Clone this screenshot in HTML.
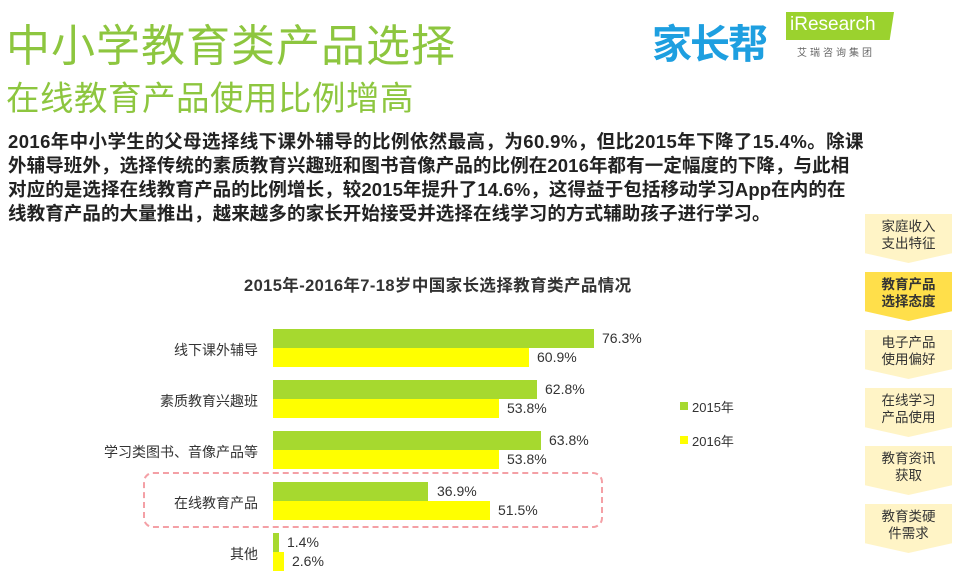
<!DOCTYPE html>
<html><head><meta charset="utf-8"><style>
body{margin:0;width:973px;height:578px;background:#fff;position:relative;overflow:hidden;font-family:"Liberation Sans","Noto Sans CJK SC",sans-serif;}
.a{position:absolute;white-space:nowrap}
.t1{left:6px;top:10px;font-size:44px;color:#8dc63f;letter-spacing:1px}
.t2{left:6px;top:71px;font-size:33.5px;color:#8dc63f;letter-spacing:0.5px}
.p{left:8px;font-size:18.5px;color:#222;font-weight:bold;letter-spacing:0.1px}
.lab{font-size:14px;color:#333;text-align:right;width:250px;left:8px}
.v{font-size:14px;color:#333}
.g{position:absolute;background:#a6d92f;height:19px;left:273px}
.y{position:absolute;background:#ffff00;height:19px;left:273px}
.box{position:absolute;left:865px;width:87px;height:49px;background:#fff4c6;clip-path:polygon(0 0,100% 0,100% 80%,50% 100%,0 80%);font-size:13.5px;color:#333;text-align:center;line-height:17px;padding-top:4px;box-sizing:border-box}
</style></head><body>
<div class="a t1">中小学教育类产品选择</div>
<div class="a t2">在线教育产品使用比例增高</div>
<div class="a" style="left:652px;top:12px;font-size:40px;font-weight:bold;color:#1e9fe0;letter-spacing:-2px">家长帮</div>
<div class="a" style="left:786px;top:12px;width:108px;height:28px;background:#9bd22e;clip-path:polygon(0 0,100% 0,96% 100%,0 100%)"></div>
<div class="a" style="left:790px;top:14px;font-size:19px;color:#fff">iResearch</div>
<div class="a" style="left:797px;top:44px;font-size:10px;color:#666;letter-spacing:3px">艾瑞咨询集团</div>
<div class="a p" style="top:128px;letter-spacing:0.4px">2016年中小学生的父母选择线下课外辅导的比例依然最高，为60.9%，但比2015年下降了15.4%。除课</div>
<div class="a p" style="top:152px">外辅导班外，选择传统的素质教育兴趣班和图书音像产品的比例在2016年都有一定幅度的下降，与此相</div>
<div class="a p" style="top:176px">对应的是选择在线教育产品的比例增长，较2015年提升了14.6%，这得益于包括移动学习App在内的在</div>
<div class="a p" style="top:200px">线教育产品的大量推出，越来越多的家长开始接受并选择在线学习的方式辅助孩子进行学习。</div>
<div class="a" style="left:244px;top:272px;font-size:16.5px;font-weight:bold;color:#333;letter-spacing:0.4px">2015年-2016年7-18岁中国家长选择教育类产品情况</div>

<div class="g" style="top:329px;width:321px"></div><div class="y" style="top:348px;width:256px"></div>
<div class="a v" style="left:602px;top:330px">76.3%</div><div class="a v" style="left:537px;top:349px">60.9%</div>
<div class="a lab" style="top:340px">线下课外辅导</div>
<div class="g" style="top:380px;width:264px"></div><div class="y" style="top:399px;width:226px"></div>
<div class="a v" style="left:545px;top:381px">62.8%</div><div class="a v" style="left:507px;top:400px">53.8%</div>
<div class="a lab" style="top:391px">素质教育兴趣班</div>
<div class="g" style="top:431px;width:268px"></div><div class="y" style="top:450px;width:226px"></div>
<div class="a v" style="left:549px;top:432px">63.8%</div><div class="a v" style="left:507px;top:451px">53.8%</div>
<div class="a lab" style="top:442px">学习类图书、音像产品等</div>
<div class="g" style="top:482px;width:155px"></div><div class="y" style="top:501px;width:217px"></div>
<div class="a v" style="left:437px;top:483px">36.9%</div><div class="a v" style="left:498px;top:502px">51.5%</div>
<div class="a lab" style="top:493px">在线教育产品</div>
<div class="g" style="top:533px;width:6px"></div><div class="y" style="top:552px;width:11px"></div>
<div class="a v" style="left:287px;top:534px">1.4%</div><div class="a v" style="left:292px;top:553px">2.6%</div>
<div class="a lab" style="top:544px">其他</div>
<div class="a" style="left:143px;top:472px;width:456px;height:52px;border:2px dashed #f4a0a6;border-radius:10px"></div>

<div class="a" style="left:680px;top:402px;width:8px;height:8px;background:#a6d92f"></div>
<div class="a v" style="left:692px;top:397px;font-size:13px">2015年</div>
<div class="a" style="left:680px;top:436px;width:8px;height:8px;background:#ffff00"></div>
<div class="a v" style="left:692px;top:431px;font-size:13px">2016年</div>

<div class="box" style="top:214px">家庭收入<br>支出特征</div>
<div class="box" style="top:272px;background:#ffdf4a;font-weight:bold">教育产品<br>选择态度</div>
<div class="box" style="top:330px">电子产品<br>使用偏好</div>
<div class="box" style="top:388px">在线学习<br>产品使用</div>
<div class="box" style="top:446px">教育资讯<br>获取</div>
<div class="box" style="top:504px">教育类硬<br>件需求</div>
</body></html>
